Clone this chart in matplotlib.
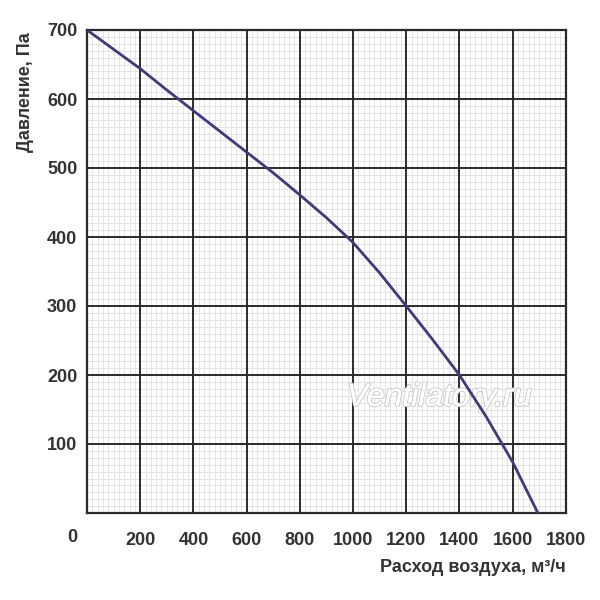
import matplotlib
matplotlib.use("Agg")
import matplotlib.pyplot as plt
from matplotlib.ticker import MultipleLocator
import matplotlib.transforms as mtransforms
import matplotlib.patheffects as pe

# Data
flow = [0, 100, 200, 300, 400, 500, 600, 700, 800, 900, 1000, 1100, 1200,
        1300, 1400, 1500, 1600, 1695]
pressure = [700, 672, 644, 613, 583, 553, 523, 493, 461, 428, 392, 348, 300,
            251, 200, 140, 74, 0]

x_ticks = [200, 400, 600, 800, 1000, 1200, 1400, 1600, 1800]
y_ticks = [100, 200, 300, 400, 500, 600, 700]

plt.rcParams['font.family'] = ['Liberation Sans', 'DejaVu Sans']

fig = plt.figure(figsize=(6, 6), dpi=100)
ax = fig.add_axes([0.145, 0.145, 0.798, 0.805])

ax.set_xlim(0, 1800)
ax.set_ylim(0, 700)

ax.xaxis.set_minor_locator(MultipleLocator(20))
ax.yaxis.set_minor_locator(MultipleLocator(10))
ax.set_xticks(x_ticks)
ax.set_yticks(y_ticks)

ax.grid(which='minor', color='#e0e0e0', linewidth=0.6)
ax.set_axisbelow(True)
for xv in x_ticks:
    ax.axvline(xv, color='#2a2a2a', linewidth=1.4, zorder=1.5)
for yv in y_ticks:
    ax.axhline(yv, color='#2a2a2a', linewidth=1.4, zorder=1.5)
for s in ax.spines.values():
    s.set_color('#2a2a2a')
    s.set_linewidth(1.6)

ax.tick_params(which='both', length=0)
ax.tick_params(axis='x', pad=14, labelsize=13, labelcolor='#333333')
ax.tick_params(axis='y', pad=7, labelsize=13, labelcolor='#333333')
for lbl in ax.get_xticklabels() + ax.get_yticklabels():
    lbl.set_fontweight('bold')

ax.plot(flow, pressure, color='#3d3b78', linewidth=2.0, solid_capstyle='round',
        zorder=3)

# origin label
off = mtransforms.offset_copy(ax.transData, fig=fig, x=-15, y=-25, units='dots')
ax.text(0, 0, '0', transform=off, ha='center', va='center', fontsize=13,
        fontweight='bold', color='#333333')

# watermark
ax.text(1324, 167, 'Ventilatory.ru', fontsize=23, style='italic', color='white',
        ha='center', va='center', zorder=2.5,
        path_effects=[pe.withStroke(linewidth=1.6, foreground='#cfcfcf'),
                      pe.Normal()])

fig.text(0.042, (600 - 92) / 600, 'Давление, Па', rotation=90, ha='center', va='center',
         fontsize=13, fontweight='bold', color='#333333')
fig.text(566 / 600, (600 - 568) / 600, 'Расход воздуха, м³/ч', ha='right', va='center',
         fontsize=13, fontweight='bold', color='#333333')

fig.savefig('out.png', dpi=100, facecolor='white')
